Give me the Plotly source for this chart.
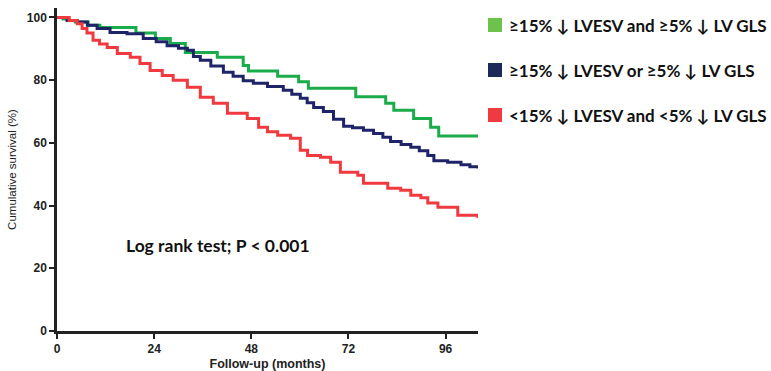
import plotly.graph_objects as go

# Kaplan-Meier step data (months, cumulative survival %)
green_t = [0, 1.5, 3, 4.5, 7.7, 10.6, 19.5, 24.3, 28, 31.7, 39.6, 46, 47.3, 54.5, 59.7, 62.1, 73.8, 81.2, 83.2, 88.1, 92.3, 94.3, 104]
green_s = [100, 99.5, 99, 98.5, 97.5, 96.8, 95.0, 93.3, 91.7, 88.8, 87.3, 84.7, 82.9, 81.2, 79.5, 77.4, 74.7, 72.6, 70.4, 67.8, 65.0, 62.2, 62.2]

navy_t = [0, 2.5, 5, 7.5, 9.9, 13.1, 17.3, 21.3, 24.5, 27.2, 30, 32.2, 33.7, 35.4, 38, 41.1, 43.5, 46, 48.5, 52, 55.9, 58, 60.1, 61.8, 63.4, 65.8, 68.3, 70.8, 73, 75.7, 78.2, 80.5, 82.4, 85, 87.4, 89.5, 91.6, 93.1, 96.5, 99.8, 102, 104]
navy_s = [100, 99, 98.5, 97.5, 96.5, 95.2, 94.8, 93.3, 92.2, 91, 90.2, 89.5, 87.5, 86.3, 84.5, 82.5, 81.2, 79.8, 79, 78, 76.8, 75.5, 74.2, 72.8, 71.3, 70, 67.5, 65.3, 64.8, 64, 63, 61.8, 60.4, 59.5, 58.6, 57.5, 56, 54.3, 53.8, 53, 52.4, 51.8]

red_t = [0, 3, 5, 6.2, 7.4, 8.9, 10.5, 12.4, 14.9, 18.1, 20.5, 23, 26, 28.7, 32.2, 35.4, 38.6, 42.1, 47, 49.8, 52, 54.5, 57.7, 60.1, 61.9, 65.1, 67.6, 70, 74.3, 75.7, 80, 81.7, 84.9, 87.4, 89.9, 91.6, 94.1, 99, 103, 104]
red_s = [100, 99, 98, 96.5, 95, 92.7, 91.5, 90.4, 88.5, 87.3, 85.3, 83.1, 81.5, 80, 77.7, 74.5, 72.6, 69.4, 67.8, 65, 63.5, 62.4, 61.5, 57.6, 56, 55.4, 53.8, 50.6, 49.7, 47.1, 47.1, 45.5, 44.9, 43.3, 42.5, 40.8, 39.5, 36.9, 36.9, 36]

legend_labels = ["≥15% ↓ LVESV and ≥5% ↓ LV GLS",
                 "≥15% ↓ LVESV or ≥5% ↓ LV GLS",
                 "<15% ↓ LVESV and <5% ↓ LV GLS"]
line_colors = ["#1aab4a", "#1f2468", "#f03a3f"]
square_colors = ["#6cc24a", "#1c2a5a", "#ee3a40"]

x_ticks = [0, 24, 48, 72, 96]
y_ticks = [0, 20, 40, 60, 80, 100]

fig = go.Figure()
for t, s, c, name in [(green_t, green_s, line_colors[0], legend_labels[0]),
                      (navy_t, navy_s, line_colors[1], legend_labels[1]),
                      (red_t, red_s, line_colors[2], legend_labels[2])]:
    fig.add_trace(go.Scatter(x=t, y=s, mode="lines", line=dict(color=c, width=3, shape="hv"),
                             name=name, showlegend=False))

tick_font = dict(family="Liberation Sans, Arial", size=12, color="#222", weight="bold")
fig.update_layout(
    width=771, height=371,
    margin=dict(l=57, r=293, t=8, b=40),
    plot_bgcolor="white", paper_bgcolor="white",
    xaxis=dict(range=[0, 104], tickvals=x_ticks, ticktext=[str(v) for v in x_ticks],
               automargin=False,
               showgrid=False, zeroline=False, showline=True, linecolor="#222", linewidth=2.5,
               ticks="outside", ticklen=5, tickwidth=1.5, tickcolor="#222",
               tickfont=tick_font,
               title=dict(text="Follow-up (months)", standoff=10,
                          font=dict(family="Liberation Sans, Arial", size=12.5, color="#222", weight="bold"))),
    yaxis=dict(range=[0, 103], tickvals=y_ticks, ticktext=[str(v) for v in y_ticks],
               automargin=False,
               showgrid=False, zeroline=False, showline=True, linecolor="#222", linewidth=2.5,
               ticks="outside", ticklen=5, tickwidth=1.5, tickcolor="#222",
               tickfont=tick_font,
               title=dict(text="Cumulative survival (%)", standoff=8,
                          font=dict(family="Liberation Sans, Arial", size=11.5, color="#222"))),
)

fig.add_annotation(x=(218 - 57) / 421, y=(331 - 245) / 323, xref="paper", yref="paper",
                   text="Log rank test; P < 0.001",
                   showarrow=False, xanchor="center", yanchor="middle",
                   font=dict(family="Lato", size=17.5, color="#111", weight="bold"))

leg_y = [25, 70, 115]
for i, (lab, col) in enumerate(zip(legend_labels, square_colors)):
    fig.add_shape(type="rect", xref="paper", yref="paper",
                  x0=(488 - 57) / 421, x1=(502 - 57) / 421,
                  y0=(331 - leg_y[i] - 7) / 323, y1=(331 - leg_y[i] + 7) / 323,
                  fillcolor=col, line=dict(width=0))
    fig.add_annotation(x=(507 - 57) / 421, y=(331 - leg_y[i]) / 323, xref="paper", yref="paper",
                       text=lab, showarrow=False, xanchor="left", yanchor="middle",
                       font=dict(family="Lato", size=17, color="#111", weight="bold"))

fig.write_html("out.html")
